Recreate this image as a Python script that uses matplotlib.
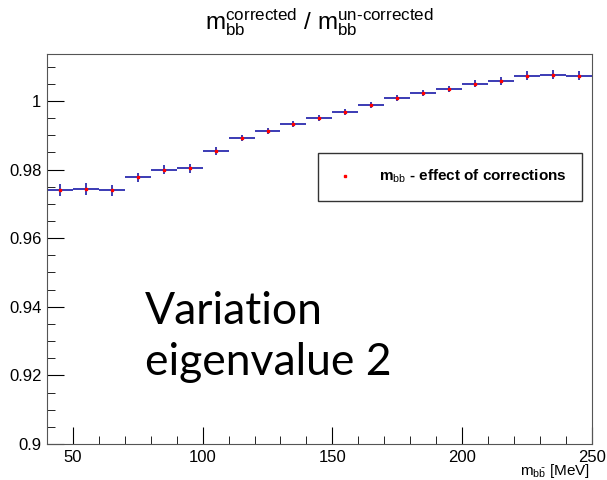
import numpy as np
import matplotlib.pyplot as plt
from matplotlib.ticker import MultipleLocator

plt.rcParams['font.family'] = ['Liberation Sans', 'DejaVu Sans']
plt.rcParams['mathtext.fontset'] = 'custom'
plt.rcParams['mathtext.rm'] = 'Liberation Sans'
plt.rcParams['mathtext.it'] = 'Liberation Sans'
plt.rcParams['mathtext.bf'] = 'Liberation Sans:bold'

# bin centres [MeV] and ratio values
mbb = [45, 55, 65, 75, 85, 95, 105, 115, 125, 135, 145,
       155, 165, 175, 185, 195, 205, 215, 225, 235, 245]
ratio = [0.9740, 0.9743, 0.9740, 0.9778, 0.9800, 0.9804, 0.9854, 0.9892,
         0.9912, 0.9933, 0.9950, 0.9968, 0.9988, 1.0009, 1.0023, 1.0035,
         1.0050, 1.0058, 1.0073, 1.0076, 1.0073]
yerr = [0.0017, 0.0017, 0.0016, 0.0013, 0.0013, 0.0013, 0.0012, 0.0010,
        0.0009, 0.0008, 0.0008, 0.0008, 0.0008, 0.0008, 0.0008, 0.0009,
        0.0010, 0.0011, 0.0013, 0.0013, 0.0013]
binw = 10

fig = plt.figure(figsize=(6.07, 4.8), dpi=100)
ax = fig.add_axes([0.0774, 0.075, 0.8976, 0.8125])

ax.errorbar(mbb, ratio, xerr=binw / 2, yerr=yerr, fmt='none',
            ecolor='#1a1aa8', elinewidth=1.2, capsize=0)
ax.plot(mbb, ratio, 's', color='red', markersize=2, linestyle='none',
        label=r'm$_{\rm bb}$ - effect of corrections')

ax.set_xlim(40, 250)
ax.set_ylim(0.9, 1.0137)
ax.xaxis.set_major_locator(MultipleLocator(50))
ax.xaxis.set_minor_locator(MultipleLocator(10))
ax.yaxis.set_major_locator(MultipleLocator(0.02))
ax.yaxis.set_minor_locator(MultipleLocator(0.005))
ax.yaxis.set_major_formatter(plt.FuncFormatter(lambda v, p: ('%g' % round(v, 3))))
ax.tick_params(which='both', direction='in', top=False, right=False,
               labelsize=12, pad=4)
ax.tick_params(which='major', length=12)
ax.tick_params(which='minor', length=6)
for s in ax.spines.values():
    s.set_color('#555555')

fig.text(0.972, 0.018, r'm$_{b\bar{b}}$ [MeV]', fontsize=11, ha='right', va='center')

fig.text(0.526, 0.953,
         r'm$_{\rm bb}^{\rm corrected}$ / m$_{\rm bb}^{\rm un\text{-}corrected}$',
         ha='center', va='center', fontsize=17.5)

leg = ax.legend(loc='upper left', bbox_to_anchor=(0.498, 0.747), frameon=True,
                fancybox=False, edgecolor='black', borderpad=1.0,
                handletextpad=1.5, handlelength=1.5, borderaxespad=0,
                prop={'weight': 'bold', 'size': 11})
leg.get_frame().set_linewidth(1.0)

ax.text(0.18, 0.275, 'Variation\neigenvalue 2', transform=ax.transAxes,
        fontsize=32, family=['Lato', 'DejaVu Sans'], va='center',
        linespacing=1.3)

fig.savefig('out.png', dpi=100)
